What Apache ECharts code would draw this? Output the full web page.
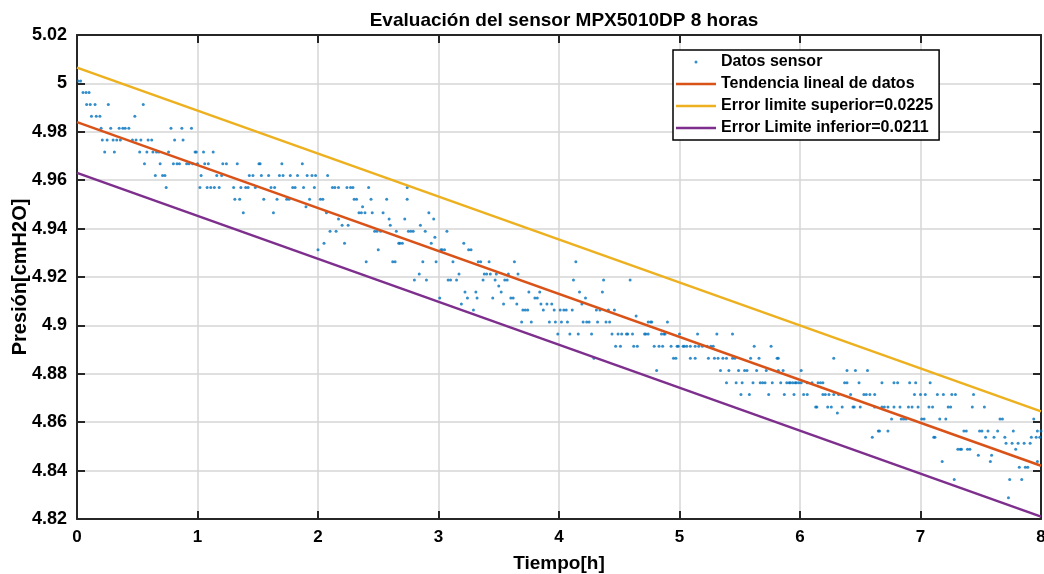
<!DOCTYPE html>
<html>
<head>
<meta charset="utf-8">
<script src="https://cdn.jsdelivr.net/npm/echarts@6/dist/echarts.min.js"></script>
<style>
  html, body { margin: 0; padding: 0; background: #fff; }
  #chart { width: 1044px; height: 574px; }
</style>
</head>
<body>
<div id="chart"></div>
<script>
// valores: cada nivel del sensor y los tiempos [h] en que aparece
var rowValues = [
  5.0010, 4.9962, 4.9913, 4.9864, 4.9815, 4.9766, 4.9717, 4.9668, 4.9619, 4.9570,
  4.9521, 4.9490, 4.9465, 4.9440, 4.9414, 4.9389, 4.9364, 4.9339, 4.9313, 4.9263,
  4.9212, 4.9188, 4.9163, 4.9138, 4.9113, 4.9088, 4.9064, 4.9039, 4.9014, 4.8964,
  4.8914, 4.8864, 4.8814, 4.8763, 4.8714, 4.8663, 4.8638, 4.8613, 4.8564, 4.8538,
  4.8513, 4.8488, 4.8463, 4.8438, 4.8414, 4.8363, 4.8288
];
var rowTimes = [
  [0.01, 0.03],
  [0.05, 0.075, 0.10],
  [0.08, 0.11, 0.15, 0.26, 0.55],
  [0.12, 0.16, 0.19, 0.48],
  [0.20, 0.28, 0.35, 0.38, 0.40, 0.43, 0.78, 0.87, 0.95],
  [0.21, 0.25, 0.30, 0.33, 0.36, 0.46, 0.49, 0.53, 0.59, 0.62, 0.81, 0.88],
  [0.23, 0.31, 0.52, 0.58, 0.63, 0.66, 0.68, 0.76, 0.98, 0.99, 1.05, 1.13],
  [0.56, 0.69, 0.80, 0.83, 0.85, 0.91, 0.93, 0.96, 1.00, 1.06, 1.09, 1.21, 1.24, 1.33, 1.51, 1.52, 1.70, 1.87],
  [0.65, 0.71, 0.73, 1.03, 1.16, 1.20, 1.43, 1.46, 1.53, 1.59, 1.68, 1.71, 1.77, 1.83, 1.91, 1.95, 1.98, 2.08],
  [0.74, 1.02, 1.08, 1.11, 1.14, 1.18, 1.30, 1.36, 1.40, 1.42, 1.48, 1.61, 1.64, 1.79, 1.81, 1.88, 1.97, 2.12, 2.14, 2.17, 2.24, 2.27, 2.29, 2.42, 2.74],
  [1.31, 1.35, 1.55, 1.66, 1.74, 1.76, 1.93, 2.02, 2.04, 2.30, 2.32, 2.44, 2.57, 2.74],
  [1.90, 2.37],
  [1.38, 1.63, 2.07, 2.34, 2.36, 2.39, 2.45, 2.54, 2.92],
  [2.17, 2.59, 2.72, 2.96],
  [2.20, 2.25, 2.60, 2.85],
  [2.10, 2.15, 2.47, 2.49, 2.52, 2.65, 2.75, 2.77, 2.79, 2.89, 3.07],
  [2.97],
  [2.05, 2.22, 2.67, 2.68, 2.70, 2.94, 3.21],
  [2.00, 2.50, 3.02, 3.03, 3.05, 3.25, 3.27],
  [2.40, 2.62, 2.64, 2.87, 2.98, 3.12, 3.33, 3.35, 3.42, 3.63, 4.14],
  [2.84, 3.17, 3.38, 3.40, 3.43, 3.48, 3.58, 3.66],
  [2.80, 2.90, 3.08, 3.10, 3.15, 3.37, 3.47, 3.55, 3.57, 4.12, 4.37, 4.59],
  [3.50],
  [3.22, 3.31, 3.52, 3.75, 3.84, 4.17, 4.36],
  [3.01, 3.24, 3.32, 3.45, 3.60, 3.62, 3.80, 3.82, 4.22],
  [3.19, 3.54, 3.65, 3.85, 3.90, 3.94, 4.19],
  [3.29, 3.70, 3.72, 3.74, 3.87, 3.96, 4.01, 4.04, 4.06, 4.11, 4.31, 4.34, 4.41, 4.46],
  [4.64],
  [3.69, 3.77, 3.92, 3.97, 4.02, 4.07, 4.20, 4.23, 4.25, 4.32, 4.39, 4.42, 4.74, 4.76, 4.77, 4.90],
  [3.99, 4.09, 4.16, 4.27, 4.44, 4.49, 4.52, 4.56, 4.57, 4.61, 4.71, 4.72, 4.74, 4.85, 4.87, 4.88, 5.00, 5.15, 5.31, 5.44],
  [4.47, 4.51, 4.62, 4.65, 4.79, 4.83, 4.86, 4.93, 4.98, 4.99, 5.03, 5.04, 5.06, 5.09, 5.13, 5.16, 5.19, 5.23, 5.26, 5.28, 5.62, 5.76],
  [4.29, 4.95, 4.97, 5.09, 5.13, 5.24, 5.29, 5.32, 5.36, 5.39, 5.44, 5.46, 5.59, 5.66, 5.81, 5.82, 6.28],
  [4.81, 5.34, 5.41, 5.49, 5.54, 5.56, 5.64, 5.72, 5.82, 5.86, 6.01, 6.39, 6.46, 6.56],
  [5.39, 5.47, 5.52, 5.61, 5.67, 5.69, 5.71, 5.77, 5.84, 5.89, 5.91, 5.92, 5.94, 5.96, 5.97, 5.99, 6.01, 6.06, 6.10, 6.15, 6.17, 6.19, 6.37, 6.39, 6.49, 6.68, 6.78, 6.81, 6.91, 6.96, 7.08],
  [5.51, 5.58, 5.74, 5.87, 5.95, 6.03, 6.06, 6.19, 6.21, 6.24, 6.28, 6.32, 6.42, 6.53, 6.55, 6.58, 6.62, 6.95, 7.00, 7.04, 7.14, 7.19, 7.26, 7.29, 7.44],
  [6.13, 6.14, 6.23, 6.26, 6.35, 6.44, 6.45, 6.50, 6.62, 6.68, 6.70, 6.73, 6.78, 6.83, 6.90, 6.93, 6.98, 7.07, 7.10, 7.23, 7.25, 7.43, 7.53],
  [6.31],
  [6.76, 6.84, 6.86, 6.88, 7.01, 7.03, 7.16, 7.21, 7.66, 7.68, 7.94],
  [6.65, 6.66, 6.73, 7.36, 7.38, 7.49, 7.51, 7.56, 7.64, 7.77, 7.97, 8.00],
  [6.60, 7.11, 7.12, 7.54, 7.61, 7.70, 7.92, 7.96, 7.99],
  [7.71, 7.76, 7.81, 7.86, 7.91],
  [7.31, 7.33, 7.34, 7.39, 7.41, 7.79],
  [7.48, 7.59],
  [7.18, 7.58, 7.97],
  [7.82, 7.87, 7.89],
  [7.28, 7.74, 7.84],
  [7.73]
];

// rectas: extremos en t = 0 y t = 8 h
var lineTimes = [0, 8];
var trendValues = [4.984, 4.842];
var upperValues = [5.0065, 4.8645];
var lowerValues = [4.963, 4.821];

var seriesNames = [
  "Datos sensor",
  "Tendencia lineal de datos",
  "Error limite superior=0.0225",
  "Error Limite inferior=0.0211"
];
var seriesColors = ["#0072BD", "#D95319", "#EDB120", "#7E2F8E"];

var sensorData = [];
rowValues.forEach(function (v, i) {
  rowTimes[i].forEach(function (t) {
    sensorData.push([t, v]);
  });
});

function toLine(values) {
  return lineTimes.map(function (t, i) { return [t, values[i]]; });
}

var fontFam = "'Liberation Sans', Arial, Helvetica, sans-serif";
var axisColor = "#262626";
var gridColor = "#d6d6d6";

// iconos de la leyenda (punto y trazo, como en MATLAB)
function svgIcon(inner) {
  var svg = "<svg xmlns='http://www.w3.org/2000/svg' width='40' height='14'>" + inner + "</svg>";
  return "image://data:image/svg+xml;charset=utf-8," + encodeURIComponent(svg);
}
var dotIcon = svgIcon("<circle cx='20' cy='7' r='1.5' fill='" + seriesColors[0] + "'/>");
function lineIcon(c) {
  return svgIcon("<rect x='0' y='5.75' width='40' height='2.5' fill='" + c + "'/>");
}

var myChart = echarts.init(document.getElementById("chart"));

var option = {
  backgroundColor: "#fff",
  animation: false,
  title: {
    text: "Evaluación del sensor MPX5010DP 8 horas",
    left: 559,
    textAlign: "center",
    top: 6,
    textStyle: { fontFamily: fontFam, fontSize: 19, fontWeight: "bold", color: "#000" }
  },
  legend: {
    orient: "vertical",
    left: 673,
    top: 50,
    itemWidth: 40,
    itemHeight: 14,
    itemGap: 6,
    padding: [4, 6, 4, 3],
    borderColor: "#000",
    borderWidth: 1.5,
    backgroundColor: "#fff",
    textStyle: { fontFamily: fontFam, fontSize: 16, fontWeight: "bold", color: "#000" },
    data: [
      { name: seriesNames[0], icon: dotIcon },
      { name: seriesNames[1], icon: lineIcon(seriesColors[1]) },
      { name: seriesNames[2], icon: lineIcon(seriesColors[2]) },
      { name: seriesNames[3], icon: lineIcon(seriesColors[3]) }
    ]
  },
  grid: { left: 77, right: 3, top: 35, bottom: 55, outerBoundsMode: "none" },
  xAxis: [
    {
      type: "value",
      min: 0,
      max: 8,
      interval: 1,
      name: "Tiempo[h]",
      nameLocation: "middle",
      nameGap: 35,
      nameMoveOverlap: false,
      nameTextStyle: { fontFamily: fontFam, fontSize: 19, fontWeight: "bold", color: "#000" },
      axisLine: { show: true, onZero: false, lineStyle: { color: axisColor, width: 2 } },
      axisTick: { show: true, inside: true, length: 8, lineStyle: { color: axisColor, width: 2 } },
      axisLabel: { margin: 10, fontFamily: fontFam, fontSize: 17, fontWeight: "bold", color: "#000" },
      splitLine: { show: true, lineStyle: { color: gridColor, width: 1.5 } }
    },
    {
      type: "value",
      position: "top",
      min: 0,
      max: 8,
      interval: 1,
      axisLine: { show: true, onZero: false, lineStyle: { color: axisColor, width: 2 } },
      axisTick: { show: true, inside: true, length: 8, lineStyle: { color: axisColor, width: 2 } },
      axisLabel: { show: false },
      splitLine: { show: false }
    }
  ],
  yAxis: [
    {
      type: "value",
      min: 4.82,
      max: 5.02,
      interval: 0.02,
      name: "Presión[cmH2O]",
      nameLocation: "middle",
      nameGap: 47,
      nameMoveOverlap: false,
      nameTextStyle: { fontFamily: fontFam, fontSize: 20, fontWeight: "bold", color: "#000" },
      axisLine: { show: true, onZero: false, lineStyle: { color: axisColor, width: 2 } },
      axisTick: { show: true, inside: true, length: 8, lineStyle: { color: axisColor, width: 2 } },
      axisLabel: {
        margin: 10,
        fontFamily: fontFam, fontSize: 18, fontWeight: "bold", color: "#000",
        formatter: function (v) { return String(+v.toFixed(2)); }
      },
      splitLine: { show: true, lineStyle: { color: gridColor, width: 1.5 } }
    },
    {
      type: "value",
      position: "right",
      min: 4.82,
      max: 5.02,
      interval: 0.02,
      axisLine: { show: true, onZero: false, lineStyle: { color: axisColor, width: 2 } },
      axisTick: { show: true, inside: true, length: 8, lineStyle: { color: axisColor, width: 2 } },
      axisLabel: { show: false },
      splitLine: { show: false }
    }
  ],
  series: [
    {
      name: seriesNames[0],
      type: "scatter",
      symbol: "circle",
      symbolSize: 3,
      itemStyle: { color: seriesColors[0] },
      data: sensorData,
      z: 3
    },
    {
      name: seriesNames[1],
      type: "line",
      symbol: "none",
      lineStyle: { color: seriesColors[1], width: 2.5 },
      itemStyle: { color: seriesColors[1] },
      data: toLine(trendValues),
      z: 4
    },
    {
      name: seriesNames[2],
      type: "line",
      symbol: "none",
      lineStyle: { color: seriesColors[2], width: 2.5 },
      itemStyle: { color: seriesColors[2] },
      data: toLine(upperValues),
      z: 4
    },
    {
      name: seriesNames[3],
      type: "line",
      symbol: "none",
      lineStyle: { color: seriesColors[3], width: 2.5 },
      itemStyle: { color: seriesColors[3] },
      data: toLine(lowerValues),
      z: 4
    }
  ]
};

myChart.setOption(option);
</script>
</body>
</html>
